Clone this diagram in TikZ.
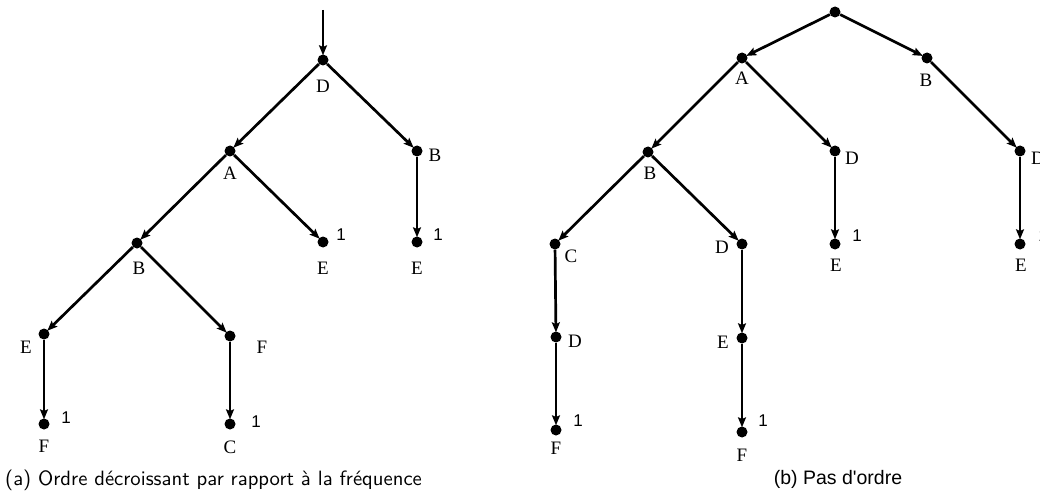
\documentclass[tikz,border=0pt]{standalone}
\usepackage{fontspec}
\setmainfont{Liberation Serif}
\newfontfamily\numfont{Liberation Sans}
\newfontfamily\capfont[Extension=.otf]{lmsans10-regular}
\usetikzlibrary{arrows.meta}
\tikzset{
  dot/.style={circle,fill=black,inner sep=0pt,minimum size=11pt},
  lab/.style={font=\fontsize{19}{19}\selectfont,inner sep=1pt},
  num/.style={font=\numfont\fontsize{17}{17}\selectfont,inner sep=0pt},
  edge/.style={line width=2.7pt,-{Stealth[length=10pt,width=8pt,inset=1.8pt]},shorten >=-1pt},
  captexta/.style={font=\capfont\fontsize{20.7}{20.7}\selectfont,inner sep=0pt},
  captextb/.style={font=\numfont\fontsize{19.5}{19.5}\selectfont,inner sep=0pt}
}
\begin{document}
\begin{tikzpicture}[x=1pt,y=-1pt]
\useasboundingbox (0,0) rectangle (1040,497);
\clip (0,0) rectangle (1040,497);
% ---------- tree (a)
\coordinate (a0) at (323,10);
\node[dot] (aD) at (323,60) {};
\node[dot] (aA) at (230,151) {};
\node[dot] (aB) at (417,151) {};
\node[dot] (aAE) at (323,242) {};
\node[dot] (aBE) at (417,242) {};
\node[dot] (aAB) at (137,243) {};
\node[dot] (aE) at (44,334) {};
\node[dot] (aF) at (230,336) {};
\node[dot] (aEF) at (44,424) {};
\node[dot] (aFC) at (230,424) {};
\draw[edge] (a0) -- (aD);
\draw[edge] (aD) -- (aA);
\draw[edge] (aD) -- (aB);
\draw[edge] (aA) -- (aAE);
\draw[edge] (aA) -- (aAB);
\draw[edge] (aB) -- (aBE);
\draw[edge] (aAB) -- (aE);
\draw[edge] (aAB) -- (aF);
\draw[edge] (aE) -- (aEF);
\draw[edge] (aF) -- (aFC);
\node[lab] (laD) at (323,86) {D};
\node[lab] (laA) at (230,173) {A};
\node[lab] (laB) at (435,155) {B};
\node[lab] (laAE) at (323,268) {E};
\node[lab] (laBE) at (417,268) {E};
\node[lab] (laAB) at (139,268) {B};
\node[lab] (laE) at (26,347) {E};
\node[lab] (laF) at (262,347) {F};
\node[lab] (laEF) at (44,446) {F};
\node[lab] (laFC) at (230,447) {C};
\node[num] (n1) at (341,235) {1};
\node[num] (n2) at (438,235) {1};
\node[num] (n3) at (66,418) {1};
\node[num] (n4) at (256,422) {1};
\node[captexta,anchor=west] (capa) at (5,480) {(a) Ordre décroissant par rapport à la fréquence};
% ---------- tree (b)
\node[dot] (bR) at (835,12) {};
\node[dot] (bA) at (742,58) {};
\node[dot] (bB) at (927,58) {};
\node[dot] (bAB) at (648,152) {};
\node[dot] (bAD) at (835,151) {};
\node[dot] (bBD) at (1020,151) {};
\node[dot] (bADE) at (835,244) {};
\node[dot] (bBDE) at (1020,244) {};
\node[dot] (bC) at (555,244) {};
\node[dot] (bD) at (742,244) {};
\node[dot] (bCD) at (556,337) {};
\node[dot] (bDE) at (742,338) {};
\node[dot] (bCDF) at (556,430) {};
\node[dot] (bDEF) at (742,432) {};
\draw[edge] (bR) -- (bA);
\draw[edge] (bR) -- (bB);
\draw[edge] (bA) -- (bAB);
\draw[edge] (bA) -- (bAD);
\draw[edge] (bB) -- (bBD);
\draw[edge] (bAD) -- (bADE);
\draw[edge] (bBD) -- (bBDE);
\draw[edge] (bAB) -- (bC);
\draw[edge] (bAB) -- (bD);
\draw[edge] (bC) -- (bCD);
\draw[edge] (bD) -- (bDE);
\draw[edge] (bCD) -- (bCDF);
\draw[edge] (bDE) -- (bDEF);
\node[lab] (lbA) at (742,78) {A};
\node[lab] (lbB) at (926,80) {B};
\node[lab] (lbAB) at (650,173) {B};
\node[lab] (lbAD) at (852,158) {D};
\node[lab] (lbBD) at (1038,158) {D};
\node[lab] (lbADE) at (836,265) {E};
\node[lab] (lbBDE) at (1021,265) {E};
\node[lab] (lbC) at (571,256) {C};
\node[lab] (lbD) at (722,247) {D};
\node[lab] (lbCD) at (575,341) {D};
\node[lab] (lbDE) at (723,342) {E};
\node[lab] (lbCDF) at (556,448) {F};
\node[lab] (lbDEF) at (742,455) {F};
\node[num] (m1) at (857,236) {1};
\node[num] (m2) at (1043,236) {1};
\node[num] (m3) at (578,421) {1};
\node[num] (m4) at (763,421) {1};
\node[captextb] (capb) at (838,479) {(b) Pas d'ordre};
\end{tikzpicture}
\end{document}
